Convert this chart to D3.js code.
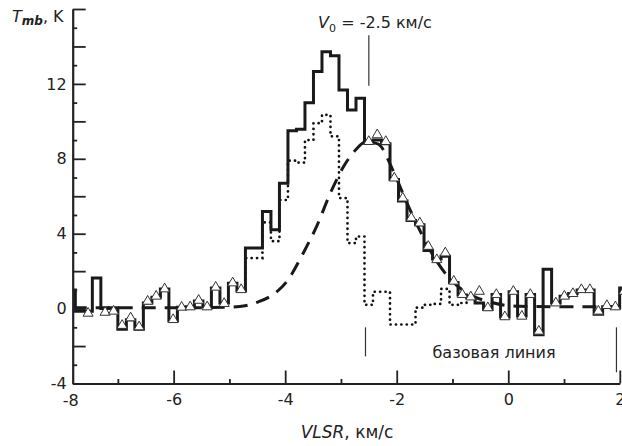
<!DOCTYPE html>
<html><head><meta charset="utf-8">
<script src="https://cdn.jsdelivr.net/npm/d3@7"></script>
<style>
body{margin:0;background:#fff;}
text{font-family:"DejaVu Sans","Liberation Sans",Arial,sans-serif;fill:#222;}
</style></head>
<body><svg id="c" width="622" height="446"></svg>
<script>
// ---- data ----
const channelStart = -7.839;   // km/s, centre of first channel
const channelWidth = 0.1525;   // km/s
// main spectrum (solid step line), K
const tmbMain = [1.0,-0.14,-0.14,1.64,0.0,0.05,-1.1,-0.6,-1.1,0.3,0.6,1.05,-0.65,0.07,0.1,0.4,0.1,1.1,0.3,1.35,0.95,
  3.24,3.24,5.19,4.21,6.7,9.5,9.58,11.0,12.66,13.72,13.5,11.68,10.61,11.24,8.84,9.0,8.8,6.9,5.75,4.7,4.48,3.1,2.65,2.8,1.4,
  0.72,0.6,0.3,-0.05,0.75,-0.45,0.9,-0.4,0.75,-1.4,2.1,0.3,0.66,0.8,1.0,1.0,-0.3,0.1,0.05,1.1];
// triangle markers (channels outside the line window), K
const tmbTri = [null,null,-0.25,null,-0.2,-0.14,-0.9,-0.5,-0.98,0.39,0.66,1.05,-0.59,0.07,0.09,0.44,0.09,1.14,0.27,1.37,1.01,
  null,null,null,null,null,null,null,null,null,null,null,null,null,null,8.92,9.28,8.92,6.97,5.9,4.84,4.57,3.32,2.61,2.97,1.46,
  0.75,0.62,0.92,0.04,0.75,-0.44,0.92,-0.41,0.75,-1.21,null,0.3,0.66,0.8,1.01,1.01,-0.14,0.16,0.09,0.92];
// dotted spectrum, K (channels 20..48 of the grid)
const dottedOffset = 20;
const tmbDotted = [0.95,2.7,2.7,4.6,3.6,5.8,7.9,7.8,9.0,9.9,10.35,9.2,5.9,3.5,3.85,0.2,0.9,0.9,-0.85,-0.85,-0.85,0.05,0.2,0.25,1.05,0.2,0.3,0.6,0.3];
// dashed fit curve
const fitV = [-7.81,-6.5,-5.53,-4.99,-4.72,-4.49,-4.27,-3.97,-3.67,-3.42,-3.2,-2.95,-2.73,-2.56,-2.34,-2.07,-1.84,-1.59,-1.34,-1.05,-0.72,-0.33,0.21,0.93,2.0];
const fitT = [0.05,0.05,0.05,0.08,0.15,0.35,0.65,1.45,3.0,4.5,6.1,7.6,8.5,8.9,8.8,7.4,5.8,4.2,2.8,1.6,0.8,0.35,0.12,0.1,0.1];
const xMajorTicks = [-6,-4,-2,0,2];
const xMinorTicks = [-7,-5,-3,-1,1];
const yMajorTicks = [-4,-2,0,2,4,6,8,10,12,14,16];
const yMinorTicks = [-3,-1,1,3,5,7,9,11,13,15];
const yLabelled = [-4,0,4,8,12];
const v0 = -2.5;
const baselineMarks = [-2.56, 1.94];

// ---- scales ----
const svg = d3.select("#c");
const x = d3.scaleLinear().domain([-7.81, 2]).range([72.7, 619.8]);
const y = d3.scaleLinear().domain([-4, 16]).range([383.5, 9]);
const vel = d3.range(tmbMain.length).map(i => channelStart + i*channelWidth);

svg.append("defs").append("clipPath").attr("id","clip")
  .append("rect").attr("x", x(-7.81)).attr("y", 0).attr("width", 622 - x(-7.81)).attr("height", y(-4));

const plot = svg.append("g").attr("clip-path","url(#clip)");

// dotted
const dotPts = tmbDotted.map((t,i)=>[vel[i+dottedOffset], t]);
plot.append("path").datum(dotPts)
  .attr("d", d3.line().x(d=>x(d[0])).y(d=>y(d[1])).curve(d3.curveStep))
  .attr("fill","none").attr("stroke","#111").attr("stroke-width",2.7)
  .attr("stroke-linecap","round").attr("stroke-dasharray","0.1,5.3");

// dashed fit
plot.append("path").datum(fitV.map((v,i)=>[v,fitT[i]]))
  .attr("d", d3.line().x(d=>x(d[0])).y(d=>y(d[1])).curve(d3.curveMonotoneX))
  .attr("fill","none").attr("stroke","#1a1a1a").attr("stroke-width",3)
  .attr("stroke-dasharray","14,9");

// solid main
plot.append("path").datum(tmbMain.map((t,i)=>[vel[i],t]))
  .attr("d", d3.line().x(d=>x(d[0])).y(d=>y(d[1])).curve(d3.curveStep))
  .attr("fill","none").attr("stroke","#1a1a1a").attr("stroke-width",3).attr("stroke-linejoin","miter");

// triangles
const tri = d3.symbol().type(d3.symbolTriangle).size(44);
plot.selectAll("path.tri").data(tmbTri.map((t,i)=>[vel[i],t]).filter(d=>d[1]!==null))
  .join("path").attr("class","tri").attr("d", tri)
  .attr("transform", d=>`translate(${x(d[0])},${y(d[1])})`)
  .attr("fill","#fff").attr("stroke","#333").attr("stroke-width",1);

// ---- axes ----
const xg = svg.append("g").attr("transform",`translate(0,${y(-4)})`);
xg.call(d3.axisBottom(x).tickValues(xMajorTicks).tickSizeInner(-13).tickSizeOuter(0).tickPadding(10.5).tickFormat(d=>d))
xg.call(g=>g.selectAll(".tick text").attr("font-size",16).attr("fill","#222"));
const xg2 = svg.append("g").attr("transform",`translate(0,${y(-4)})`);
xg2.call(d3.axisBottom(x).tickValues(xMinorTicks).tickSizeInner(-4.5).tickSizeOuter(0).tickFormat(""));
xg2.select(".domain").remove();
svg.append("text").attr("x", x(-7.81)-2).attr("y", y(-4)+22).attr("text-anchor","middle").attr("font-size",16).text("-8");

const yg = svg.append("g").attr("transform",`translate(${x(-7.81)},0)`);
yg.call(d3.axisLeft(y).tickValues(yMajorTicks).tickSizeInner(-13).tickSizeOuter(0).tickPadding(6)
  .tickFormat(d=> yLabelled.includes(d) ? d : ""));
yg.selectAll(".tick text").attr("font-size",16).attr("fill","#222");
const yg2 = svg.append("g").attr("transform",`translate(${x(-7.81)},0)`);
yg2.call(d3.axisLeft(y).tickValues(yMinorTicks).tickSizeInner(-4.5).tickSizeOuter(0).tickFormat(""));
yg2.select(".domain").remove();
svg.selectAll(".domain").attr("stroke","#222").attr("stroke-width",2.2);
svg.selectAll(".tick line").attr("stroke","#222").attr("stroke-width",1.8);
svg.selectAll(".tick text").attr("font-family",'"DejaVu Sans","Liberation Sans",Arial,sans-serif');

// ---- annotations ----
svg.append("line").attr("x1",x(v0)).attr("x2",x(v0)).attr("y1",y(14.6)).attr("y2",y(11.9))
  .attr("stroke","#333").attr("stroke-width",1.2);
baselineMarks.forEach((v,i)=>{
  svg.append("line").attr("x1",x(v)).attr("x2",x(v)).attr("y1",y(-1.0)).attr("y2",y(i===0?-2.55:-3.4))
    .attr("stroke","#333").attr("stroke-width",1.2);
});
const t0 = svg.append("text").attr("x",375).attr("y",28).attr("text-anchor","middle").attr("font-size",16);
t0.append("tspan").attr("font-style","italic").text("V");
t0.append("tspan").attr("font-size",11).attr("dy",4).text("0");
t0.append("tspan").attr("dy",-4).text(" = -2.5 км/с");

svg.append("text").attr("x",494).attr("y",358).attr("text-anchor","middle").attr("font-size",16).text("базовая линия");

const yt = svg.append("text").attr("x",12).attr("y",22).attr("font-size",16);
yt.append("tspan").attr("font-style","italic").text("T");
yt.append("tspan").attr("font-style","italic").attr("font-weight","bold").attr("font-size",12).attr("dy",3).text("mb");
yt.append("tspan").attr("dy",-3).text(", K");

const xt = svg.append("text").attr("x",347).attr("y",438).attr("text-anchor","middle").attr("font-size",17);
xt.append("tspan").attr("font-style","italic").text("VLSR");
xt.append("tspan").text(", км/с");
</script></body></html>
